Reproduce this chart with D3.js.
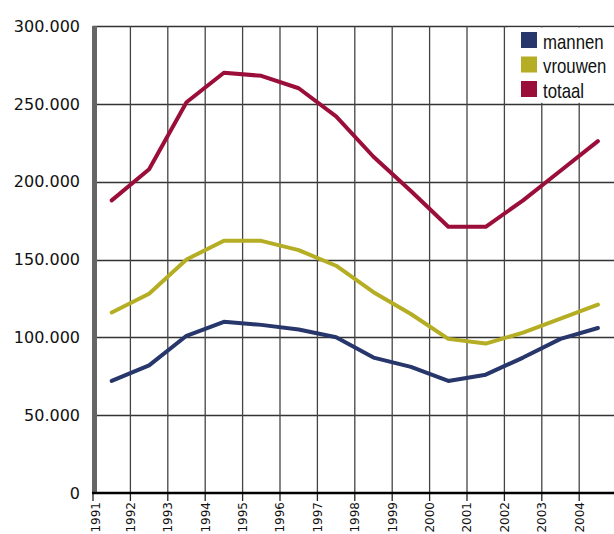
<!DOCTYPE html>
<html><head><meta charset="utf-8">
<script src="https://cdn.jsdelivr.net/npm/d3@7"></script>
<style>html,body{margin:0;padding:0;background:#fff;}svg{display:block;}</style>
</head><body>
<svg id="chart" width="614" height="534"></svg>
<script>
const years = [1991,1992,1993,1994,1995,1996,1997,1998,1999,2000,2001,2002,2003,2004];
const mannen  = [72000, 82000, 101000, 110000, 108000, 105000, 100000, 87000, 81000, 72000, 76000, 87000, 99000, 106000];
const vrouwen = [116000, 128000, 150000, 162000, 162000, 156000, 146000, 129000, 115000, 99000, 96000, 103000, 112000, 121000];
const totaal  = [188000, 208000, 251000, 270000, 268000, 260000, 242000, 216000, 194000, 171000, 171000, 188000, 207000, 226000];
const yTicks = [0, 50000, 100000, 150000, 200000, 250000, 300000];
const seriesNames = ["mannen", "vrouwen", "totaal"];
const seriesColors = ["#27366b", "#b5ae24", "#9b0e3a"];

const svg = d3.select("#chart");
const x = d3.scaleBand().domain(years).range([93, 616.6]).padding(0);
const y = d3.scaleLinear().domain([0, 300000]).range([493, 26]);
const fmt = v => v === 0 ? "0" : d3.format(",")(v).replace(/,/g, ".");

// horizontal grid
svg.append("g").selectAll("line").data(yTicks.filter(d => d > 0)).join("line")
  .attr("x1", 93).attr("x2", 614)
  .attr("y1", d => Math.round(y(d)) + 0.5).attr("y2", d => Math.round(y(d)) + 0.5)
  .attr("stroke", "#333").attr("stroke-width", 1.3);

// vertical grid
svg.append("g").selectAll("line").data(years.slice(1)).join("line")
  .attr("x1", d => x(d)).attr("x2", d => x(d))
  .attr("y1", y(300000)).attr("y2", y(0))
  .attr("stroke", "#444").attr("stroke-width", 1.3);

// legend background
svg.append("rect").attr("x", 508).attr("y", y(300000) + 1.5).attr("width", 110).attr("height", y(250000) - y(300000) - 2.5).attr("fill", "#fff");

// x ticks
svg.append("g").selectAll("line").data(years).join("line")
  .attr("x1", d => x(d)).attr("x2", d => x(d))
  .attr("y1", 493).attr("y2", 501)
  .attr("stroke", "#222").attr("stroke-width", 1.3);

// y axis bar
svg.append("rect").attr("x", 92).attr("y", y(300000)).attr("width", 5).attr("height", y(0) - y(300000)).attr("fill", "#666");
// x axis line
svg.append("line").attr("x1", 92).attr("x2", 614).attr("y1", 493).attr("y2", 493)
  .attr("stroke", "#000").attr("stroke-width", 2.6);

// y labels
svg.append("g").selectAll("text").data(yTicks).join("text")
  .attr("x", 80).attr("y", d => y(d)).attr("dy", "0.36em")
  .attr("text-anchor", "end")
  .attr("font-family", "'DejaVu Sans', sans-serif").attr("font-size", 16)
  .attr("fill", "#111")
  .text(fmt);

// x labels
svg.append("g").selectAll("text").data(years).join("text")
  .attr("transform", d => `translate(${x(d) + (d === 1991 ? 3 : 0)},502) rotate(-90)`)
  .attr("dy", "0.36em")
  .attr("text-anchor", "end")
  .attr("font-family", "'DejaVu Sans', sans-serif").attr("font-size", 12)
  .attr("fill", "#111")
  .text(d => d);

// lines
const line = d3.line().x((d, i) => x(years[i]) + x.bandwidth() / 2).y(d => y(d)).curve(d3.curveLinear);
const seriesData = [mannen, vrouwen, totaal];
seriesData.forEach((s, i) => {
  svg.append("path").datum(s).attr("d", line)
    .attr("fill", "none").attr("stroke", seriesColors[i]).attr("stroke-width", 4)
    .attr("stroke-linejoin", "round").attr("stroke-linecap", "round");
});

// legend
const leg = svg.append("g").selectAll("g").data(seriesNames).join("g")
  .attr("transform", (d, i) => `translate(521,${32 + i * 24.5})`);
leg.append("rect").attr("width", 16).attr("height", 16).attr("fill", (d, i) => seriesColors[i]);
leg.append("text").attr("transform", "translate(22,16.5) scale(0.84,1)")
  .attr("font-family", "'Liberation Sans', Arial, sans-serif")
  .attr("font-size", 20).attr("fill", "#111")
  .text(d => d);
</script>
</body></html>
